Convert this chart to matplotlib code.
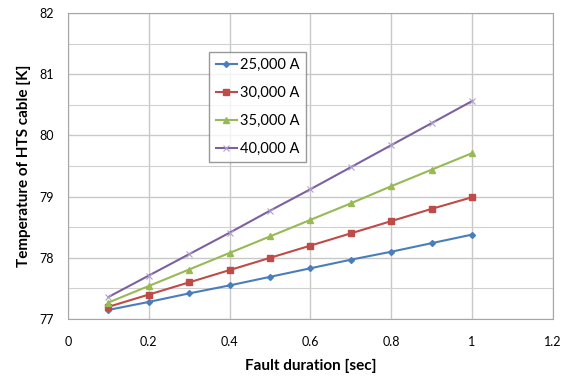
import matplotlib.pyplot as plt
from matplotlib.ticker import MultipleLocator

plt.rcParams['font.family'] = ['Lato', 'DejaVu Sans']

# fault duration [sec]
duration = [0.1, 0.2, 0.3, 0.4, 0.5, 0.6, 0.7, 0.8, 0.9, 1.0]

# cable temperature [K] per fault current
temp_25k = [77.15, 77.28, 77.42, 77.55, 77.69, 77.83, 77.97, 78.10, 78.24, 78.38]
temp_30k = [77.20, 77.40, 77.60, 77.80, 78.00, 78.20, 78.40, 78.60, 78.80, 78.99]
temp_35k = [77.27, 77.54, 77.81, 78.08, 78.35, 78.62, 78.89, 79.17, 79.44, 79.71]
temp_40k = [77.36, 77.71, 78.06, 78.41, 78.77, 79.12, 79.48, 79.84, 80.20, 80.56]

fig = plt.figure(figsize=(5.7, 3.79), dpi=100)
ax = fig.add_axes([0.119, 0.158, 0.851, 0.808])

ax.plot(duration, temp_25k, color='#4A7EBB', lw=1.5, marker='D', ms=3, label='25,000 A')
ax.plot(duration, temp_30k, color='#BE4B48', lw=1.5, marker='s', ms=5, label='30,000 A')
ax.plot(duration, temp_35k, color='#98B954', lw=1.5, marker='^', ms=5, label='35,000 A')
ax.plot(duration, temp_40k, color='#7D60A0', lw=1.5, marker='x', ms=5, mew=0.8,
        mec='#B3A2C7', label='40,000 A')

ax.set_xlim(0, 1.2)
ax.set_ylim(77, 82)
ax.yaxis.set_major_locator(MultipleLocator(1))
ax.yaxis.set_minor_locator(MultipleLocator(0.5))
ax.set_xticks([0, 0.2, 0.4, 0.6, 0.8, 1.0, 1.2])
ax.set_xticklabels(['0', '0.2', '0.4', '0.6', '0.8', '1', '1.2'])

ax.grid(True, which='major', color='#C8C8C8', lw=1.0)
ax.grid(True, which='minor', axis='y', color='#D0D0D0', lw=0.8)
ax.set_axisbelow(True)
for s in ax.spines.values():
    s.set_color('#A6A6A6')
ax.tick_params(which='both', length=0, labelsize=9, pad=12)
ax.tick_params(axis='y', pad=10)

ax.set_xlabel('Fault duration [sec]', fontsize=11, fontweight='bold', labelpad=8)
ax.set_ylabel('Temperature of HTS cable [K]', fontsize=11, fontweight='bold', labelpad=6)

leg = ax.legend(loc='upper left', bbox_to_anchor=(0.291, 0.873), fontsize=10.5,
                frameon=True, fancybox=False, handlelength=1.5, handletextpad=0.2,
                labelspacing=0.95, borderpad=0.45, borderaxespad=0)
leg.get_frame().set_edgecolor('#808080')
leg.get_frame().set_linewidth(1.0)

fig.savefig('out.png', dpi=100)
